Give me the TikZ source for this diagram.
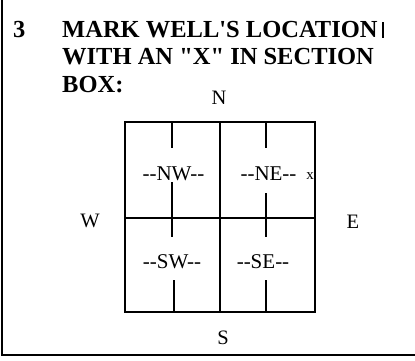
\documentclass[tikz,border=0pt]{standalone}
\usepackage{fontspec}
\setmainfont{Liberation Serif}[Ligatures=TeXOff]
\begin{document}
\begin{tikzpicture}[x=1pt,y=-1pt,
  frame/.style={line width=2pt},
  outer/.style={line width=2.6pt},
  inner/.style={line width=2pt},
  tick/.style={line width=2pt},
  title/.style={font=\fontsize{24.5}{27.5}\selectfont\bfseries, inner sep=0pt, align=left},
  lbl/.style={font=\fontsize{20.5}{24}\selectfont, inner sep=0pt},
  sec/.style={font=\fontsize{21}{24}\selectfont, inner sep=0pt}]
\useasboundingbox (0,0) rectangle (415,360);
% frame
\coordinate (ftl) at (2,0);
\coordinate (fbl) at (2,354.5);
\coordinate (fbr) at (415,354.5);
\draw[frame] (ftl) -- (fbl) -- (fbr);
\coordinate (mt) at (383,22);
\coordinate (mb) at (383,38);
\draw[line width=1.5pt] (mt) -- (mb);
% title
\node[title, anchor=base west] (num) at (13,37.5) {3};
\node[title, anchor=north west] (ttl) at (62,21) {MARK WELL'S LOCATION\\WITH AN "X" IN SECTION\\BOX:};
% grid
\coordinate (a) at (125,122);
\coordinate (b) at (315,312);
\draw[outer] (a) rectangle (b);
\coordinate (vt) at (220,122);
\coordinate (vb) at (220,312);
\coordinate (hl) at (125,218);
\coordinate (hr) at (315,218);
\draw[inner] (vt) -- (vb);
\draw[inner] (hl) -- (hr);
% ticks
\foreach \n/\x/\ya/\yb in {t1/172/122/148, t2/172/182/237, t3/173.5/280/312,
                           t4/266/122/148, t5/266/193/237, t6/266/280/312}{
  \coordinate (\n a) at (\x,\ya);
  \coordinate (\n b) at (\x,\yb);
  \draw[tick] (\n a) -- (\n b);
}
% labels
\node[lbl] (N) at (219,98) {N};
\node[lbl] (W) at (90,221) {W};
\node[lbl] (E) at (353,222) {E};
\node[lbl] (S) at (223,338) {S};
\node[sec] (nw) at (173.5,174) {--NW--};
\node[sec] (ne) at (268.5,174) {--NE--};
\node[sec] (sw) at (172,262) {--SW--};
\node[sec] (se) at (263,262) {--SE--};
\node[font=\fontsize{15}{17}\selectfont, inner sep=0pt] (xm) at (310,176) {x};
\end{tikzpicture}
\end{document}
